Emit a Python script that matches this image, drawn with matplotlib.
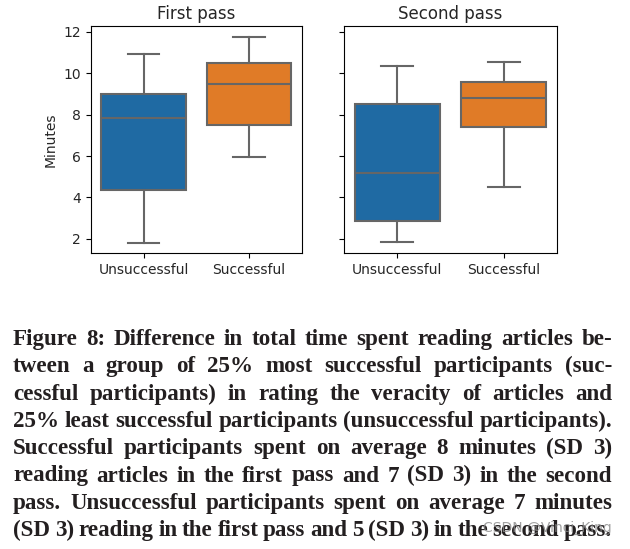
import matplotlib
matplotlib.use("Agg")
import matplotlib.pyplot as plt

groups = ["Unsuccessful", "Successful"]
passes = ["First pass", "Second pass"]
colors = ["#1f6aa3", "#e07b27"]

# five-number summaries: whislo, q1, median, q3, whishi
first_lo = [1.82, 5.94]
first_q1 = [4.37, 7.52]
first_med = [7.83, 9.50]
first_q3 = [9.02, 10.47]
first_hi = [10.94, 11.77]

second_lo = [1.86, 4.50]
second_q1 = [2.86, 7.41]
second_med = [5.17, 8.81]
second_q3 = [8.52, 9.58]
second_hi = [10.36, 10.55]

caption_lines = [
    "Figure 8: Difference in total time spent reading articles be-",
    "tween a group of 25% most successful participants (suc-",
    "cessful participants) in rating the veracity of articles and",
    "25% least successful participants (unsuccessful participants).",
    "Successful participants spent on average 8 minutes (SD 3)",
    "reading articles in the first pass and 7 (SD 3) in the second",
    "pass. Unsuccessful participants spent on average 7 minutes",
    "(SD 3) reading in the first pass and 5 (SD 3) in the second pass.",
]

W, H = 630, 549
fig = plt.figure(figsize=(W / 100, H / 100), dpi=100)
ax1 = fig.add_axes([90.7 / W, 1 - 253 / H, 211.3 / W, 227 / H])
ax2 = fig.add_axes([344.3 / W, 1 - 253 / H, 212.4 / W, 227 / H], sharey=ax1)

data = [
    (first_lo, first_q1, first_med, first_q3, first_hi),
    (second_lo, second_q1, second_med, second_q3, second_hi),
]

edge = "#666666"
for ax, title, (lo, q1, med, q3, hi) in zip([ax1, ax2], passes, data):
    stats = []
    for i, g in enumerate(groups):
        stats.append(dict(label=g, whislo=lo[i], q1=q1[i], med=med[i],
                          q3=q3[i], whishi=hi[i], fliers=[]))
    bp = ax.bxp(stats, positions=[0, 1], widths=0.8, capwidths=0.3,
                patch_artist=True, showfliers=False,
                boxprops=dict(edgecolor=edge, linewidth=1.5),
                medianprops=dict(color=edge, linewidth=1.5),
                whiskerprops=dict(color=edge, linewidth=1.5),
                capprops=dict(color=edge, linewidth=1.5))
    for patch, c in zip(bp["boxes"], colors):
        patch.set_facecolor(c)
    ax.set_xlim(-0.5, 1.5)
    ax.set_title(title, fontsize=12, pad=5, color="#262626")
    ax.tick_params(labelsize=10, labelcolor="#262626")

ax1.set_ylim(1.32, 12.28)
ax1.set_yticks([2, 4, 6, 8, 10, 12])
ax1.set_ylabel("Minutes", fontsize=10, color="#262626")
ax2.tick_params(axis="y", labelleft=False)

# justified caption
fig.canvas.draw()
r = fig.canvas.get_renderer()
left, right = 13, 612
y0, step = 345, 27.3
cap = dict(fontweight="bold", family="Liberation Serif", color="#231f20",
           va="baseline", ha="left")

# pick the size so that the tightest line just fills the column
probe = fig.text(0, 0, caption_lines[3], fontsize=14.5, **cap)
fs = 14.5 * (right - left) / probe.get_window_extent(r).width
probe.remove()

for k, line in enumerate(caption_lines):
    words = line.split(" ")
    y = 1 - (y0 + k * step) / H
    texts = [fig.text(0, y, w, fontsize=fs, **cap) for w in words]
    widths = [t.get_window_extent(r).width for t in texts]
    gap = (right - left - sum(widths)) / (len(words) - 1)
    x = left
    for t, w in zip(texts, widths):
        t.set_x(x / W)
        x += w + gap

fig.text(612 / W, 1 - 532 / H, "CSDN @Vinci_King", fontsize=10,
         color="#888888", alpha=0.8, ha="right", va="baseline")

fig.savefig("out.png", dpi=100)
